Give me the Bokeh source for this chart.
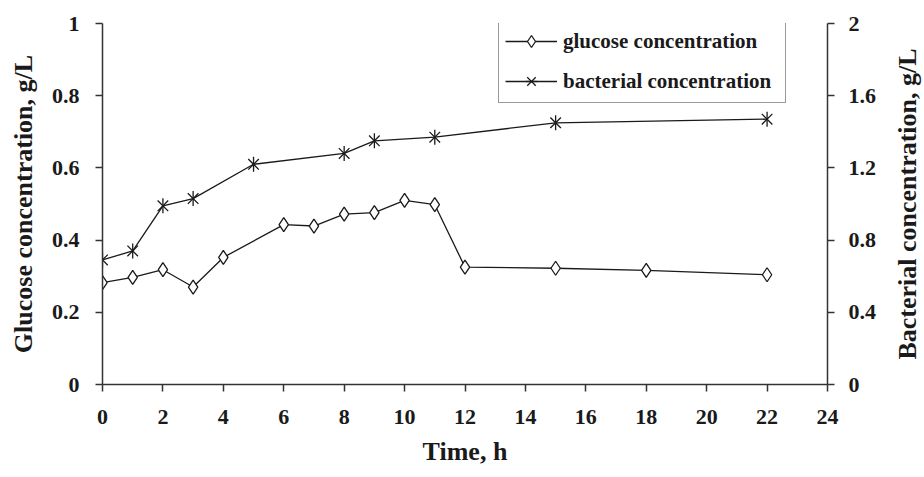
import math

from bokeh.plotting import figure
from bokeh.layouts import row
from bokeh.models import Range1d, LinearAxis, FixedTicker, Legend, LegendItem
from bokeh.core.properties import value
from bokeh.embed import file_html
from bokeh.resources import INLINE

# Sampling times (h) and measured concentrations (g/L)
time_glucose = [0, 1, 2, 3, 4, 6, 7, 8, 9, 10, 11, 12, 15, 18, 22]
glucose = [0.282, 0.297, 0.318, 0.270, 0.352, 0.443, 0.439, 0.472, 0.476,
           0.510, 0.498, 0.325, 0.322, 0.316, 0.304]

time_bacteria = [0, 1, 2, 3, 5, 8, 9, 11, 15, 22]
bacteria = [0.69, 0.74, 0.99, 1.03, 1.22, 1.28, 1.35, 1.37, 1.45, 1.47]

x_ticks = [0, 2, 4, 6, 8, 10, 12, 14, 16, 18, 20, 22, 24]
left_ticks = [0, 0.2, 0.4, 0.6, 0.8, 1.0]
left_tick_labels = ["0", "0.2", "0.4", "0.6", "0.8", "1"]
right_ticks = [0, 0.4, 0.8, 1.2, 1.6, 2.0]
right_tick_labels = ["0", "0.4", "0.8", "1.2", "1.6", "2"]
right_title = "Bacterial concentration, g/L"

FONT = "Liberation Serif"
INK = "#1a1a1a"
TICK_SIZE = "22px"
TITLE_SIZE = "26px"

bact_range = Range1d(0, 2)

p = figure(width=890, height=477, output_backend="svg", toolbar_location=None,
           x_range=Range1d(0, 24), y_range=Range1d(0, 1),
           min_border_left=102, min_border_right=63,
           min_border_top=23, min_border_bottom=93)
p.extra_y_ranges = {"bact": bact_range}
p.outline_line_color = None
p.xgrid.visible = False
p.ygrid.visible = False
p.background_fill_color = "white"
p.border_fill_color = "white"


def style_axis(ax, ticks, overrides, label, standoff, title_standoff):
    ax.ticker = FixedTicker(ticks=ticks)
    if overrides:
        ax.major_label_overrides = overrides
    if label:
        ax.axis_label = label
    ax.axis_label_text_font = FONT
    ax.axis_label_text_font_style = "bold"
    ax.axis_label_text_font_size = TITLE_SIZE
    ax.axis_label_text_color = INK
    ax.axis_label_standoff = title_standoff
    ax.major_label_text_font = FONT
    ax.major_label_text_font_style = "bold"
    ax.major_label_text_font_size = TICK_SIZE
    ax.major_label_text_color = INK
    ax.major_label_standoff = standoff
    ax.axis_line_color = "#333333"
    ax.axis_line_width = 1.5
    ax.major_tick_line_color = "#333333"
    ax.major_tick_line_width = 1.5
    ax.major_tick_out = 7
    ax.major_tick_in = 0
    ax.minor_tick_line_color = None


style_axis(p.xaxis[0], x_ticks, None, "Time, h", 18, 10)
style_axis(p.yaxis[0], left_ticks,
           {t: s for t, s in zip(left_ticks, left_tick_labels)},
           "Glucose concentration, g/L", 16, 11)

right_axis = LinearAxis(y_range_name="bact")
style_axis(right_axis, right_ticks,
           {t: s for t, s in zip(right_ticks, right_tick_labels)},
           None, 14, 0)
p.add_layout(right_axis, "right")

# Glucose series: line with open diamonds
g_line = p.line(time_glucose, glucose, line_color=INK, line_width=1.3)
g_pts = p.scatter(time_glucose, glucose, marker="diamond", size=14,
                  fill_color="white", line_color=INK, line_width=1.3)

# Bacterial series: line with six-armed star markers
b_line = p.line(time_bacteria, bacteria, y_range_name="bact",
                line_color=INK, line_width=1.3)
b_x = p.scatter(time_bacteria, bacteria, y_range_name="bact", marker="x",
                size=15, line_color=INK, line_width=1.3)
b_bar = p.scatter(time_bacteria, bacteria, y_range_name="bact", marker="dash",
                  angle=math.pi / 2, size=15, line_color=INK, line_width=1.3)

legend = Legend(items=[
    LegendItem(label="glucose concentration", renderers=[g_line, g_pts]),
    LegendItem(label="bacterial concentration", renderers=[b_line, b_x, b_bar]),
], location=(396, 281))
legend.label_text_font = FONT
legend.label_text_font_style = "bold"
legend.label_text_font_size = "21px"
legend.label_text_color = INK
legend.label_width = 216
legend.label_standoff = 6
legend.glyph_width = 52
legend.glyph_height = 30
legend.padding = 6
legend.spacing = 10
legend.margin = 0
legend.border_line_color = "#333333"
legend.border_line_width = 1.3
legend.background_fill_color = "white"
legend.background_fill_alpha = 1.0
p.add_layout(legend)

# Narrow strip to the right carrying the right-axis title (reads bottom to top)
strip = figure(width=34, height=477, output_backend="svg", toolbar_location=None,
               x_range=Range1d(0, 34), y_range=bact_range,
               min_border_left=0, min_border_right=0,
               min_border_top=23, min_border_bottom=93)
strip.axis.visible = False
strip.xgrid.visible = False
strip.ygrid.visible = False
strip.outline_line_color = None
strip.background_fill_color = "white"
strip.border_fill_color = "white"
strip.text(x=[17], y=[1.0], text=[right_title], angle=math.pi / 2,
           text_align="center", text_baseline="middle",
           text_font=value(FONT), text_font_style="bold",
           text_font_size=TITLE_SIZE, text_color=INK)

layout = row(p, strip, spacing=0)
open("out.html", "w").write(file_html(layout, INLINE))
